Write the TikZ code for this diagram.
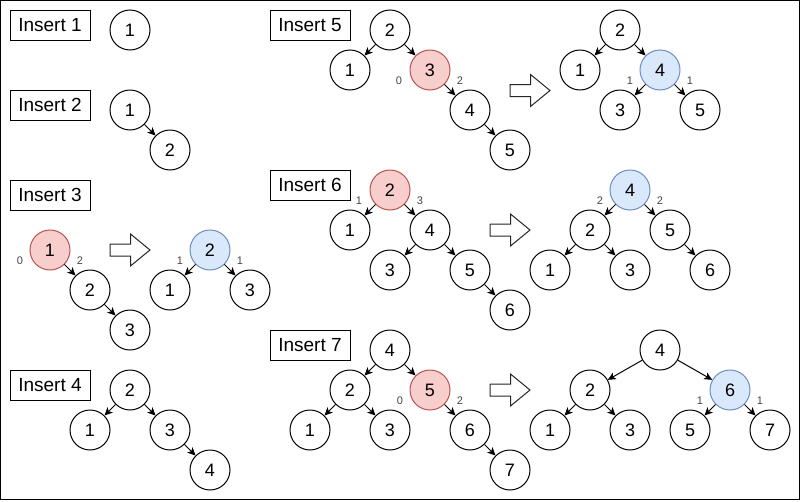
\documentclass[tikz,border=0pt]{standalone}
\usepackage{fontspec}
\setmainfont{Liberation Sans}
\usetikzlibrary{arrows.meta}
\definecolor{redfill}{HTML}{F8CECC}
\definecolor{redline}{HTML}{B85450}
\definecolor{bluefill}{HTML}{DAE8FC}
\definecolor{blueline}{HTML}{6C8EBF}
\definecolor{lblgray}{HTML}{444444}
\tikzset{
  nd/.style={circle,draw=black,line width=1pt,minimum size=40pt,inner sep=0pt,
    font=\fontsize{18}{18}\selectfont},
  rednd/.style={nd,fill=redfill,draw=redline},
  bluend/.style={nd,fill=bluefill,draw=blueline},
  title/.style={draw=black,line width=1pt,minimum width=80pt,minimum height=30pt,inner sep=0pt,
    font=\fontsize{19}{19}\selectfont},
  edge/.style={line width=1pt,-{Stealth[length=8pt,width=7.5pt,inset=2pt]}},
  bal/.style={text=lblgray,font=\fontsize{11}{11}\selectfont,inner sep=0pt},
  blockarr/.style={draw=black!85,line width=1pt,fill=white,line join=miter}
}
\newcommand\barrow[1]{\draw[blockarr] #1 ++(0,-6) -- ++(20.5,0) -- ++(0,-10) -- ++(19.5,16) -- ++(-19.5,16) -- ++(0,-10) -- ++(-20.5,0) -- cycle;}
\begin{document}
\begin{tikzpicture}[x=1pt,y=-1pt]
\useasboundingbox (0,0) rectangle (801,501);
\draw[line width=1.3pt] (0.75,0.75) rectangle (799.5,499.5);

% titles
\node[title] (t1) at (50,25) {Insert 1};
\node[title] (t2) at (50,105) {Insert 2};
\node[title] (t3) at (50,195) {Insert 3};
\node[title] (t4) at (50,385) {Insert 4};
\node[title] (t5) at (310,25) {Insert 5};
\node[title] (t6) at (310,185) {Insert 6};
\node[title] (t7) at (310,345) {Insert 7};

% Insert 1
\node[nd] (a1) at (130,30) {1};

% Insert 2
\node[nd] (b1) at (130,110) {1};
\node[nd] (b2) at (170,150) {2};
\draw[edge] (b1) -- (b2);

% Insert 3
\node[rednd] (c1) at (50,250) {1};
\node[nd] (c2) at (90,290) {2};
\node[nd] (c3) at (130,330) {3};
\draw[edge] (c1) -- (c2);
\draw[edge] (c2) -- (c3);
\node[bal] (cl0) at (20,261) {0};
\node[bal] (cl2) at (80,261) {2};
\barrow{(110,250)}
\node[bluend] (d2) at (210,250) {2};
\node[nd] (d1) at (170,290) {1};
\node[nd] (d3) at (250,290) {3};
\draw[edge] (d2) -- (d1);
\draw[edge] (d2) -- (d3);
\node[bal] (dl1) at (180,261) {1};
\node[bal] (dr1) at (240,261) {1};

% Insert 4
\node[nd] (k2) at (130,390) {2};
\node[nd] (k1) at (90,430) {1};
\node[nd] (k3) at (170,430) {3};
\node[nd] (k4) at (210,470) {4};
\draw[edge] (k2) -- (k1);
\draw[edge] (k2) -- (k3);
\draw[edge] (k3) -- (k4);

% Insert 5
\node[nd] (e2) at (390,30) {2};
\node[nd] (e1) at (350,70) {1};
\node[rednd] (e3) at (430,70) {3};
\node[nd] (e4) at (470,110) {4};
\node[nd] (e5) at (510,150) {5};
\draw[edge] (e2) -- (e1);
\draw[edge] (e2) -- (e3);
\draw[edge] (e3) -- (e4);
\draw[edge] (e4) -- (e5);
\node[bal] (el0) at (399,81) {0};
\node[bal] (el2) at (460,81) {2};
\barrow{(510,90.5)}
\node[nd] (f2) at (620,30) {2};
\node[nd] (f1) at (580,70) {1};
\node[bluend] (f4) at (660,70) {4};
\node[nd] (f3) at (620,110) {3};
\node[nd] (f5) at (700,110) {5};
\draw[edge] (f2) -- (f1);
\draw[edge] (f2) -- (f4);
\draw[edge] (f4) -- (f3);
\draw[edge] (f4) -- (f5);
\node[bal] (fl1) at (630,81) {1};
\node[bal] (fr1) at (690,81) {1};

% Insert 6
\node[rednd] (g2) at (390,190) {2};
\node[nd] (g1) at (350,230) {1};
\node[nd] (g4) at (430,230) {4};
\node[nd] (g3) at (390,270) {3};
\node[nd] (g5) at (470,270) {5};
\node[nd] (g6) at (510,310) {6};
\draw[edge] (g2) -- (g1);
\draw[edge] (g2) -- (g4);
\draw[edge] (g4) -- (g3);
\draw[edge] (g4) -- (g5);
\draw[edge] (g5) -- (g6);
\node[bal] (gl1) at (359,201) {1};
\node[bal] (gl3) at (420,201) {3};
\barrow{(490,230)}
\node[bluend] (h4) at (630,190) {4};
\node[nd] (h2) at (590,230) {2};
\node[nd] (h5) at (670,230) {5};
\node[nd] (h1) at (550,270) {1};
\node[nd] (h3) at (630,270) {3};
\node[nd] (h6) at (710,270) {6};
\draw[edge] (h4) -- (h2);
\draw[edge] (h4) -- (h5);
\draw[edge] (h2) -- (h1);
\draw[edge] (h2) -- (h3);
\draw[edge] (h5) -- (h6);
\node[bal] (hl2) at (600,201) {2};
\node[bal] (hr2) at (660,201) {2};

% Insert 7
\node[nd] (i4) at (390,350) {4};
\node[nd] (i2) at (350,390) {2};
\node[rednd] (i5) at (430,390) {5};
\node[nd] (i1) at (310,430) {1};
\node[nd] (i3) at (390,430) {3};
\node[nd] (i6) at (470,430) {6};
\node[nd] (i7) at (510,470) {7};
\draw[edge] (i4) -- (i2);
\draw[edge] (i4) -- (i5);
\draw[edge] (i2) -- (i1);
\draw[edge] (i2) -- (i3);
\draw[edge] (i5) -- (i6);
\draw[edge] (i6) -- (i7);
\node[bal] (il0) at (400,401) {0};
\node[bal] (il2) at (460,401) {2};
\barrow{(490,390)}
\node[nd] (j4) at (660,350) {4};
\node[nd] (j2) at (590,390) {2};
\node[bluend] (j6) at (730,390) {6};
\node[nd] (j1) at (550,430) {1};
\node[nd] (j3) at (630,430) {3};
\node[nd] (j5) at (690,430) {5};
\node[nd] (j7) at (770,430) {7};
\draw[edge] (j4) -- (j2);
\draw[edge] (j4) -- (j6);
\draw[edge] (j2) -- (j1);
\draw[edge] (j2) -- (j3);
\draw[edge] (j6) -- (j5);
\draw[edge] (j6) -- (j7);
\node[bal] (jl1) at (700,401) {1};
\node[bal] (jr1) at (760,401) {1};
\end{tikzpicture}
\end{document}
